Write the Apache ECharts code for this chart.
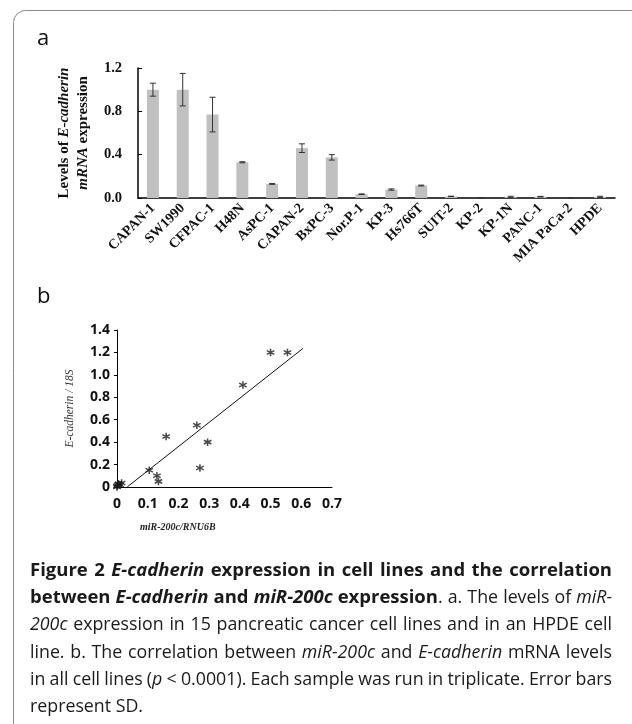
<!DOCTYPE html>
<html>
<head>
<meta charset="utf-8">
<script src="https://cdn.jsdelivr.net/npm/echarts@6/dist/echarts.min.js"></script>
<style>
html,body{margin:0;padding:0;background:#fff;}
#chart{width:632px;height:724px;}
</style>
</head>
<body>
<div id="chart"></div>
<script>
// ---- Panel a: E-cadherin mRNA expression per cell line ----
const categories = ['CAPAN-1','SW1990','CFPAC-1','H48N','AsPC-1','CAPAN-2','BxPC-3','Nor.P-1','KP-3','Hs766T','SUIT-2','KP-2','KP-1N','PANC-1','MIA PaCa-2','HPDE'];
const expression = [1.0, 1.0, 0.77, 0.33, 0.13, 0.46, 0.375, 0.035, 0.078, 0.115, 0.015, 0, 0.01, 0.012, 0, 0.01];
const expressionSD = [0.06, 0.15, 0.16, 0.005, 0.004, 0.04, 0.025, 0.003, 0.006, 0.004, 0.002, 0, 0.006, 0.003, 0, 0.006];
const barTickLabels = ['0.0','0.4','0.8','1.2'];

// ---- Panel b: correlation ----
const mir200c = [0.555, 0.5, 0.41, 0.26, 0.16, 0.295, 0.27, 0.105, 0.13, 0.135, 0.0, 0.005, 0.015, 0.0, 0.003, 0.01];
const ecadherin = [1.2, 1.2, 0.91, 0.55, 0.45, 0.40, 0.17, 0.15, 0.10, 0.05, 0.0, 0.03, 0.035, 0.01, 0.02, 0.02];
const trendX = [0.033, 0.606];
const trendY = [0, 1.237];
const scatterXTicks = ['0','0.1','0.2','0.3','0.4','0.5','0.6','0.7'];
const scatterYTicks = ['0','0.2','0.4','0.6','0.8','1.0','1.2','1.4'];

// ---- Caption ----
const captionLines = [
  [['b','Figure 2 '],['bi','E-cadherin'],['b',' expression in cell lines and the correlation']],
  [['b','between '],['bi','E-cadherin'],['b',' and '],['bi','miR-200c'],['b',' expression'],['r','. a. The levels of '],['i','miR-']],
  [['i','200c'],['r',' expression in 15 pancreatic cancer cell lines and in an HPDE cell']],
  [['r','line. b. The correlation between '],['i','miR-200c'],['r',' and '],['i','E-cadherin'],['r',' mRNA levels']],
  [['r','in all cell lines ('],['i','p'],['r',' < 0.0001). Each sample was run in triplicate. Error bars']],
  [['r','represent SD.']]
];

const serif = '"Liberation Serif", "Times New Roman", serif';
const sans = '"Open Sans", "Noto Sans", sans-serif';

const chart = echarts.init(document.getElementById('chart'), null, {renderer:'canvas'});

const errData = expression.map((v, i) => [i, v - expressionSD[i], v + expressionSD[i]]);
const scatterData = mir200c.map((x, i) => [x, ecadherin[i]]);
const trendData = trendX.map((x, i) => [x, trendY[i]]);

const asterisk = 'path://M5,0 L5,10 M0.67,2.5 L9.33,7.5 M0.67,7.5 L9.33,2.5';

// caption layout (justified text)
const capStyleDefs = {
  b: {fontWeight: 'bold', fontStyle: 'normal', size: 18.5},
  bi: {fontWeight: 'bold', fontStyle: 'italic', size: 18.5},
  r: {fontWeight: 'normal', fontStyle: 'normal', size: 17.8},
  i: {fontWeight: 'normal', fontStyle: 'italic', size: 17.8}
};
const capRich = {};
Object.keys(capStyleDefs).forEach(k => {
  capRich[k] = {fontFamily: sans, fontSize: capStyleDefs[k].size, fontWeight: capStyleDefs[k].fontWeight,
    fontStyle: capStyleDefs[k].fontStyle, fill: '#1a1a1a'};
});
const mctx = document.createElement('canvas').getContext('2d');
function measure(st, txt) {
  const d = capStyleDefs[st];
  mctx.font = d.fontStyle + ' ' + d.fontWeight + ' ' + d.size + 'px ' + sans;
  return mctx.measureText(txt).width;
}
const capLeft = 30, capRight = 612;
const capTops = [571, 598, 625, 653, 680, 707];
const capGraphics = [];
captionLines.forEach((segs, li) => {
  const words = [[]];
  segs.forEach(([st, txt]) => {
    const parts = txt.split(' ');
    parts.forEach((p, pi) => {
      if (pi > 0) words.push([]);
      if (p.length) words[words.length - 1].push([st, p]);
    });
  });
  const ws = words.filter(w => w.length);
  const widths = ws.map(w => w.reduce((s, [st, t]) => s + measure(st, t), 0));
  const total = widths.reduce((a, b) => a + b, 0);
  const last = li === captionLines.length - 1;
  const gap = last ? measure('r', ' ') : Math.max(2, (capRight - capLeft - total) / (ws.length - 1));
  let x = capLeft;
  ws.forEach((w, wi) => {
    capGraphics.push({
      type: 'text', x: x, y: capTops[li],
      style: {text: w.map(([st, t]) => '{' + st + '|' + t + '}').join(''), rich: capRich,
        verticalAlign: 'middle', align: 'left', fontSize: 18, fontFamily: sans}
    });
    x += widths[wi] + gap;
  });
});

const option = {
  animation: false,
  backgroundColor: '#fff',
  grid: [
    {left: 138, top: 68, width: 477, height: 130},
    {left: 117, top: 330, width: 215, height: 157}
  ],
  xAxis: [
    {
      type: 'category', gridIndex: 0, data: categories,
      axisLine: {lineStyle: {color: '#000', width: 1.5}},
      axisTick: {show: false},
      axisLabel: {rotate: 45, interval: 0, margin: 8, fontFamily: serif, fontWeight: 'bold', fontSize: 14, color: '#111'}
    },
    {
      type: 'value', gridIndex: 1, min: 0, max: 0.7, interval: 0.1,
      axisLine: {show: true, onZero: false, lineStyle: {color: '#000', width: 1}},
      axisTick: {show: false},
      splitLine: {show: false},
      axisLabel: {margin: 10, fontFamily: sans, fontWeight: 'bold', fontSize: 14, color: '#111',
        formatter: v => scatterXTicks[Math.round(v * 10)]}
    }
  ],
  yAxis: [
    {
      type: 'value', gridIndex: 0, min: 0, max: 1.2, interval: 0.4,
      axisLine: {show: true, lineStyle: {color: '#000', width: 1.5}},
      axisTick: {show: true, inside: true, length: 4, lineStyle: {color: '#000'}},
      splitLine: {show: false},
      axisLabel: {margin: 16, fontFamily: serif, fontWeight: 'bold', fontSize: 14.5, color: '#111',
        formatter: v => barTickLabels[Math.round(v / 0.4)]},
      name: '{b|Levels of }{bi|E-cadherin}\n{bi|mRNA}{b| expression}',
      nameLocation: 'middle', nameRotate: 90, nameGap: 45,
      nameTextStyle: {lineHeight: 19, rich: {
        b: {fontFamily: serif, fontWeight: 'bold', fontSize: 15, color: '#111', lineHeight: 19},
        bi: {fontFamily: serif, fontWeight: 'bold', fontStyle: 'italic', fontSize: 15, color: '#111', lineHeight: 19}
      }}
    },
    {
      type: 'value', gridIndex: 1, min: 0, max: 1.4, interval: 0.2,
      axisLine: {show: true, lineStyle: {color: '#000', width: 1}},
      axisTick: {show: true, length: 3, lineStyle: {color: '#000'}},
      splitLine: {show: false},
      axisLabel: {margin: 7, fontFamily: sans, fontWeight: 'bold', fontSize: 14, color: '#111',
        formatter: v => scatterYTicks[Math.round(v * 5)]},
      name: 'E-cadherin / 18S',
      nameLocation: 'middle', nameRotate: 90, nameGap: 41,
      nameTextStyle: {fontFamily: serif, fontStyle: 'italic', fontSize: 11.5, color: '#333'}
    }
  ],
  series: [
    {
      type: 'bar', xAxisIndex: 0, yAxisIndex: 0, data: expression,
      barWidth: 12, itemStyle: {color: '#c0c0c0'}, z: 2
    },
    {
      type: 'custom', xAxisIndex: 0, yAxisIndex: 0, data: errData, z: 3,
      renderItem: function (params, api) {
        const lo = api.coord([api.value(0), api.value(1)]);
        const hi = api.coord([api.value(0), api.value(2)]);
        const c = 3;
        const st = {stroke: '#333', lineWidth: 1};
        return {type: 'group', children: [
          {type: 'line', shape: {x1: lo[0], y1: lo[1], x2: hi[0], y2: hi[1]}, style: st},
          {type: 'line', shape: {x1: lo[0] - c, y1: lo[1], x2: lo[0] + c, y2: lo[1]}, style: st},
          {type: 'line', shape: {x1: hi[0] - c, y1: hi[1], x2: hi[0] + c, y2: hi[1]}, style: st}
        ]};
      }
    },
    {
      type: 'scatter', xAxisIndex: 1, yAxisIndex: 1, data: scatterData,
      symbol: asterisk, symbolSize: 7.5,
      itemStyle: {color: 'none', borderColor: '#1a1a1a', borderWidth: 1.5}, z: 4
    },
    {
      type: 'line', xAxisIndex: 1, yAxisIndex: 1, data: trendData,
      symbol: 'none', lineStyle: {color: '#111', width: 1}, z: 3
    }
  ],
  graphic: [
    {type: 'rect', shape: {x: 13.5, y: 10.5, width: 640, height: 760, r: 12},
     style: {fill: 'none', stroke: '#8a8a8a', lineWidth: 1}, z: -1},
    {type: 'text', x: 37, y: 39, style: {text: 'a', fontFamily: sans, fontSize: 22, fill: '#111', verticalAlign: 'middle'}},
    {type: 'text', x: 37, y: 297, style: {text: 'b', fontFamily: sans, fontSize: 22, fill: '#111', verticalAlign: 'middle'}},
    {type: 'text', x: 140, y: 527, style: {text: 'miR-200c/RNU6B', fontFamily: serif, fontStyle: 'italic', fontWeight: 'bold', fontSize: 10, fill: '#222', verticalAlign: 'middle'}}
  ].concat(capGraphics)
};
chart.setOption(option);
</script>
</body>
</html>
